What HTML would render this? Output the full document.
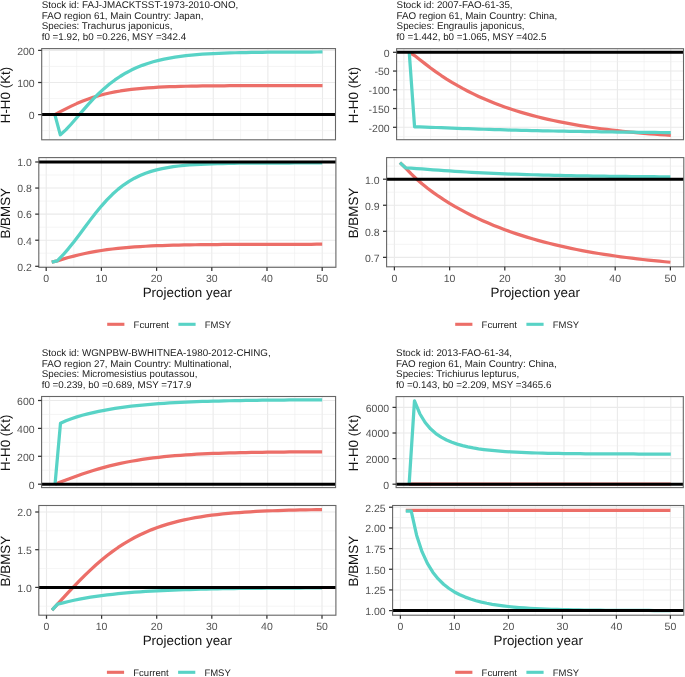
<!DOCTYPE html>
<html><head><meta charset="utf-8"><style>
html,body{margin:0;padding:0;background:#fff;width:685px;height:677px;overflow:hidden}
svg{display:block;will-change:transform}
text{font-family:"Liberation Sans", sans-serif;text-rendering:geometricPrecision}
.tt{font-size:9.8px;fill:#1c1c1c}
.tk{font-size:10.5px;fill:#525252}
.at{font-size:13.4px;fill:#141414}
.lg{font-size:9.5px;fill:#1c1c1c}
</style></head><body>
<svg width="685" height="677" viewBox="0 0 685 677">
<rect width="685" height="677" fill="#fff"/>
<line x1="76.71" y1="48.6" x2="76.71" y2="139.8" stroke="#EFEFEF" stroke-width="0.6"/>
<line x1="131.33" y1="48.6" x2="131.33" y2="139.8" stroke="#EFEFEF" stroke-width="0.6"/>
<line x1="185.95" y1="48.6" x2="185.95" y2="139.8" stroke="#EFEFEF" stroke-width="0.6"/>
<line x1="240.57" y1="48.6" x2="240.57" y2="139.8" stroke="#EFEFEF" stroke-width="0.6"/>
<line x1="295.19" y1="48.6" x2="295.19" y2="139.8" stroke="#EFEFEF" stroke-width="0.6"/>
<line x1="49.40" y1="48.6" x2="49.40" y2="139.8" stroke="#EAEAEA" stroke-width="1.1"/>
<line x1="104.02" y1="48.6" x2="104.02" y2="139.8" stroke="#EAEAEA" stroke-width="1.1"/>
<line x1="158.64" y1="48.6" x2="158.64" y2="139.8" stroke="#EAEAEA" stroke-width="1.1"/>
<line x1="213.26" y1="48.6" x2="213.26" y2="139.8" stroke="#EAEAEA" stroke-width="1.1"/>
<line x1="267.88" y1="48.6" x2="267.88" y2="139.8" stroke="#EAEAEA" stroke-width="1.1"/>
<line x1="322.50" y1="48.6" x2="322.50" y2="139.8" stroke="#EAEAEA" stroke-width="1.1"/>
<line x1="41.7" y1="130.65" x2="335.5" y2="130.65" stroke="#EFEFEF" stroke-width="0.6"/>
<line x1="41.7" y1="98.55" x2="335.5" y2="98.55" stroke="#EFEFEF" stroke-width="0.6"/>
<line x1="41.7" y1="66.45" x2="335.5" y2="66.45" stroke="#EFEFEF" stroke-width="0.6"/>
<line x1="41.7" y1="114.60" x2="335.5" y2="114.60" stroke="#EAEAEA" stroke-width="1.1"/>
<line x1="41.7" y1="82.50" x2="335.5" y2="82.50" stroke="#EAEAEA" stroke-width="1.1"/>
<line x1="41.7" y1="50.40" x2="335.5" y2="50.40" stroke="#EAEAEA" stroke-width="1.1"/>
<clipPath id="c1"><rect x="41.7" y="48.6" width="293.8" height="91.20000000000002"/></clipPath>
<polyline points="54.86,114.60 60.32,111.69 65.79,108.85 71.25,106.14 76.71,103.62 82.17,101.31 87.63,99.24 93.10,97.38 98.56,95.73 104.02,94.29 109.48,93.03 114.94,91.93 120.41,90.98 125.87,90.16 131.33,89.46 136.79,88.86 142.25,88.34 147.72,87.91 153.18,87.54 158.64,87.22 164.10,86.96 169.56,86.73 175.03,86.54 180.49,86.39 185.95,86.25 191.41,86.14 196.87,86.05 202.34,85.97 207.80,85.90 213.26,85.85 218.72,85.80 224.18,85.76 229.65,85.73 235.11,85.70 240.57,85.68 246.03,85.66 251.49,85.65 256.96,85.63 262.42,85.62 267.88,85.62 273.34,85.61 278.80,85.60 284.27,85.60 289.73,85.59 295.19,85.59 300.65,85.59 306.11,85.58 311.58,85.58 317.04,85.58 322.50,85.58" fill="none" stroke="#EC6E68" stroke-width="3.25" stroke-linejoin="round" stroke-linecap="butt" clip-path="url(#c1)"/>
<polyline points="54.86,114.60 60.32,134.80 65.79,129.85 71.25,123.99 76.71,117.70 82.17,111.34 87.63,105.13 93.10,99.22 98.56,93.72 104.02,88.66 109.48,84.06 114.94,79.93 120.41,76.24 125.87,72.97 131.33,70.09 136.79,67.57 142.25,65.36 147.72,63.44 153.18,61.78 158.64,60.34 164.10,59.10 169.56,58.04 175.03,57.12 180.49,56.34 185.95,55.67 191.41,55.10 196.87,54.61 202.34,54.20 207.80,53.85 213.26,53.55 218.72,53.30 224.18,53.08 229.65,52.90 235.11,52.75 240.57,52.62 246.03,52.51 251.49,52.42 256.96,52.34 262.42,52.28 267.88,52.22 273.34,52.18 278.80,52.14 284.27,52.11 289.73,52.08 295.19,52.06 300.65,52.04 306.11,52.02 311.58,52.01 317.04,52.00 322.50,51.99" fill="none" stroke="#58D3C6" stroke-width="3.25" stroke-linejoin="round" stroke-linecap="butt" clip-path="url(#c1)"/>
<line x1="41.7" y1="114.60" x2="335.5" y2="114.60" stroke="#000" stroke-width="3" clip-path="url(#c1)"/>
<rect x="41.7" y="48.6" width="293.80" height="91.20" fill="none" stroke="#666" stroke-width="1.1"/>
<line x1="38.10" y1="114.60" x2="41.7" y2="114.60" stroke="#333" stroke-width="1.25"/>
<text x="34.70" y="118.90" class="tk" text-anchor="end">0</text>
<line x1="38.10" y1="82.50" x2="41.7" y2="82.50" stroke="#333" stroke-width="1.25"/>
<text x="34.70" y="86.80" class="tk" text-anchor="end">100</text>
<line x1="38.10" y1="50.40" x2="41.7" y2="50.40" stroke="#333" stroke-width="1.25"/>
<text x="34.70" y="54.70" class="tk" text-anchor="end">200</text>
<line x1="73.80" y1="157.6" x2="73.80" y2="267.3" stroke="#EFEFEF" stroke-width="0.6"/>
<line x1="129.00" y1="157.6" x2="129.00" y2="267.3" stroke="#EFEFEF" stroke-width="0.6"/>
<line x1="184.20" y1="157.6" x2="184.20" y2="267.3" stroke="#EFEFEF" stroke-width="0.6"/>
<line x1="239.40" y1="157.6" x2="239.40" y2="267.3" stroke="#EFEFEF" stroke-width="0.6"/>
<line x1="294.60" y1="157.6" x2="294.60" y2="267.3" stroke="#EFEFEF" stroke-width="0.6"/>
<line x1="46.20" y1="157.6" x2="46.20" y2="267.3" stroke="#EAEAEA" stroke-width="1.1"/>
<line x1="101.40" y1="157.6" x2="101.40" y2="267.3" stroke="#EAEAEA" stroke-width="1.1"/>
<line x1="156.60" y1="157.6" x2="156.60" y2="267.3" stroke="#EAEAEA" stroke-width="1.1"/>
<line x1="211.80" y1="157.6" x2="211.80" y2="267.3" stroke="#EAEAEA" stroke-width="1.1"/>
<line x1="267.00" y1="157.6" x2="267.00" y2="267.3" stroke="#EAEAEA" stroke-width="1.1"/>
<line x1="322.20" y1="157.6" x2="322.20" y2="267.3" stroke="#EAEAEA" stroke-width="1.1"/>
<line x1="38.8" y1="253.26" x2="335.9" y2="253.26" stroke="#EFEFEF" stroke-width="0.6"/>
<line x1="38.8" y1="227.18" x2="335.9" y2="227.18" stroke="#EFEFEF" stroke-width="0.6"/>
<line x1="38.8" y1="201.10" x2="335.9" y2="201.10" stroke="#EFEFEF" stroke-width="0.6"/>
<line x1="38.8" y1="175.02" x2="335.9" y2="175.02" stroke="#EFEFEF" stroke-width="0.6"/>
<line x1="38.8" y1="266.30" x2="335.9" y2="266.30" stroke="#EAEAEA" stroke-width="1.1"/>
<line x1="38.8" y1="240.22" x2="335.9" y2="240.22" stroke="#EAEAEA" stroke-width="1.1"/>
<line x1="38.8" y1="214.14" x2="335.9" y2="214.14" stroke="#EAEAEA" stroke-width="1.1"/>
<line x1="38.8" y1="188.06" x2="335.9" y2="188.06" stroke="#EAEAEA" stroke-width="1.1"/>
<line x1="38.8" y1="161.98" x2="335.9" y2="161.98" stroke="#EAEAEA" stroke-width="1.1"/>
<clipPath id="c2"><rect x="38.8" y="157.6" width="297.09999999999997" height="109.70000000000002"/></clipPath>
<polyline points="51.72,262.20 57.24,260.90 62.76,259.17 68.28,257.56 73.80,256.08 79.32,254.72 84.84,253.48 90.36,252.37 95.88,251.37 101.40,250.48 106.92,249.69 112.44,248.99 117.96,248.37 123.48,247.83 129.00,247.35 134.52,246.93 140.04,246.57 145.56,246.25 151.08,245.97 156.60,245.73 162.12,245.52 167.64,245.34 173.16,245.19 178.68,245.05 184.20,244.93 189.72,244.83 195.24,244.75 200.76,244.67 206.28,244.61 211.80,244.55 217.32,244.51 222.84,244.47 228.36,244.43 233.88,244.40 239.40,244.38 244.92,244.36 250.44,244.34 255.96,244.32 261.48,244.31 267.00,244.30 272.52,244.29 278.04,244.28 283.56,244.27 289.08,244.26 294.60,244.26 300.12,244.25 305.64,244.25 311.16,244.25 316.68,244.24 322.20,244.24" fill="none" stroke="#EC6E68" stroke-width="3.25" stroke-linejoin="round" stroke-linecap="butt" clip-path="url(#c2)"/>
<polyline points="51.72,262.20 57.24,260.87 62.76,255.21 68.28,248.85 73.80,241.95 79.32,234.68 84.84,227.25 90.36,219.88 95.88,212.76 101.40,206.05 106.92,199.88 112.44,194.31 117.96,189.37 123.48,185.06 129.00,181.35 134.52,178.18 140.04,175.51 145.56,173.27 151.08,171.40 156.60,169.86 162.12,168.59 167.64,167.54 173.16,166.69 178.68,165.99 184.20,165.41 189.72,164.95 195.24,164.57 200.76,164.27 206.28,164.02 211.80,163.81 217.32,163.65 222.84,163.52 228.36,163.41 233.88,163.32 239.40,163.25 244.92,163.20 250.44,163.15 255.96,163.11 261.48,163.08 267.00,163.06 272.52,163.04 278.04,163.02 283.56,163.01 289.08,163.00 294.60,162.99 300.12,162.98 305.64,162.98 311.16,162.97 316.68,162.97 322.20,162.97" fill="none" stroke="#58D3C6" stroke-width="3.25" stroke-linejoin="round" stroke-linecap="butt" clip-path="url(#c2)"/>
<line x1="38.8" y1="161.98" x2="335.9" y2="161.98" stroke="#000" stroke-width="3" clip-path="url(#c2)"/>
<rect x="38.8" y="157.6" width="297.10" height="109.70" fill="none" stroke="#666" stroke-width="1.1"/>
<line x1="35.20" y1="266.30" x2="38.8" y2="266.30" stroke="#333" stroke-width="1.25"/>
<text x="31.80" y="270.60" class="tk" text-anchor="end">0.2</text>
<line x1="35.20" y1="240.22" x2="38.8" y2="240.22" stroke="#333" stroke-width="1.25"/>
<text x="31.80" y="244.52" class="tk" text-anchor="end">0.4</text>
<line x1="35.20" y1="214.14" x2="38.8" y2="214.14" stroke="#333" stroke-width="1.25"/>
<text x="31.80" y="218.44" class="tk" text-anchor="end">0.6</text>
<line x1="35.20" y1="188.06" x2="38.8" y2="188.06" stroke="#333" stroke-width="1.25"/>
<text x="31.80" y="192.36" class="tk" text-anchor="end">0.8</text>
<line x1="35.20" y1="161.98" x2="38.8" y2="161.98" stroke="#333" stroke-width="1.25"/>
<text x="31.80" y="166.28" class="tk" text-anchor="end">1.0</text>
<line x1="46.20" y1="267.3" x2="46.20" y2="270.90" stroke="#333" stroke-width="1.25"/>
<text x="46.20" y="281.80" class="tk" text-anchor="middle">0</text>
<line x1="101.40" y1="267.3" x2="101.40" y2="270.90" stroke="#333" stroke-width="1.25"/>
<text x="101.40" y="281.80" class="tk" text-anchor="middle">10</text>
<line x1="156.60" y1="267.3" x2="156.60" y2="270.90" stroke="#333" stroke-width="1.25"/>
<text x="156.60" y="281.80" class="tk" text-anchor="middle">20</text>
<line x1="211.80" y1="267.3" x2="211.80" y2="270.90" stroke="#333" stroke-width="1.25"/>
<text x="211.80" y="281.80" class="tk" text-anchor="middle">30</text>
<line x1="267.00" y1="267.3" x2="267.00" y2="270.90" stroke="#333" stroke-width="1.25"/>
<text x="267.00" y="281.80" class="tk" text-anchor="middle">40</text>
<line x1="322.20" y1="267.3" x2="322.20" y2="270.90" stroke="#333" stroke-width="1.25"/>
<text x="322.20" y="281.80" class="tk" text-anchor="middle">50</text>
<text x="41.7" y="8.20" class="tt">Stock id: FAJ-JMACKTSST-1973-2010-ONO,</text>
<text x="41.7" y="18.75" class="tt">FAO region 61, Main Country: Japan,</text>
<text x="41.7" y="29.30" class="tt">Species: Trachurus japonicus,</text>
<text x="41.7" y="39.85" class="tt">f0 =1.92, b0 =0.226, MSY =342.4</text>
<text x="9.8" y="95.0" class="at" text-anchor="middle" transform="rotate(-90 9.8 95.0)">H-H0 (Kt)</text>
<text x="9.8" y="213.25" class="at" text-anchor="middle" transform="rotate(-90 9.8 213.25)">B/BMSY</text>
<text x="187.35" y="297.30" class="at" text-anchor="middle">Projection year</text>
<line x1="107.2" y1="324.3" x2="124.4" y2="324.3" stroke="#EC6E68" stroke-width="3.1"/>
<text x="133.6" y="327.7" class="lg">Fcurrent</text>
<line x1="178.4" y1="324.3" x2="195.60000000000002" y2="324.3" stroke="#58D3C6" stroke-width="3.1"/>
<text x="204.7" y="327.7" class="lg">FMSY</text>
<line x1="430.59" y1="48.7" x2="430.59" y2="139.7" stroke="#EFEFEF" stroke-width="0.6"/>
<line x1="483.97" y1="48.7" x2="483.97" y2="139.7" stroke="#EFEFEF" stroke-width="0.6"/>
<line x1="537.35" y1="48.7" x2="537.35" y2="139.7" stroke="#EFEFEF" stroke-width="0.6"/>
<line x1="590.73" y1="48.7" x2="590.73" y2="139.7" stroke="#EFEFEF" stroke-width="0.6"/>
<line x1="644.11" y1="48.7" x2="644.11" y2="139.7" stroke="#EFEFEF" stroke-width="0.6"/>
<line x1="403.90" y1="48.7" x2="403.90" y2="139.7" stroke="#EAEAEA" stroke-width="1.1"/>
<line x1="457.28" y1="48.7" x2="457.28" y2="139.7" stroke="#EAEAEA" stroke-width="1.1"/>
<line x1="510.66" y1="48.7" x2="510.66" y2="139.7" stroke="#EAEAEA" stroke-width="1.1"/>
<line x1="564.04" y1="48.7" x2="564.04" y2="139.7" stroke="#EAEAEA" stroke-width="1.1"/>
<line x1="617.42" y1="48.7" x2="617.42" y2="139.7" stroke="#EAEAEA" stroke-width="1.1"/>
<line x1="670.80" y1="48.7" x2="670.80" y2="139.7" stroke="#EAEAEA" stroke-width="1.1"/>
<line x1="396.6" y1="61.67" x2="683.5" y2="61.67" stroke="#EFEFEF" stroke-width="0.6"/>
<line x1="396.6" y1="80.42" x2="683.5" y2="80.42" stroke="#EFEFEF" stroke-width="0.6"/>
<line x1="396.6" y1="99.17" x2="683.5" y2="99.17" stroke="#EFEFEF" stroke-width="0.6"/>
<line x1="396.6" y1="117.92" x2="683.5" y2="117.92" stroke="#EFEFEF" stroke-width="0.6"/>
<line x1="396.6" y1="136.68" x2="683.5" y2="136.68" stroke="#EFEFEF" stroke-width="0.6"/>
<line x1="396.6" y1="52.30" x2="683.5" y2="52.30" stroke="#EAEAEA" stroke-width="1.1"/>
<line x1="396.6" y1="71.05" x2="683.5" y2="71.05" stroke="#EAEAEA" stroke-width="1.1"/>
<line x1="396.6" y1="89.80" x2="683.5" y2="89.80" stroke="#EAEAEA" stroke-width="1.1"/>
<line x1="396.6" y1="108.55" x2="683.5" y2="108.55" stroke="#EAEAEA" stroke-width="1.1"/>
<line x1="396.6" y1="127.30" x2="683.5" y2="127.30" stroke="#EAEAEA" stroke-width="1.1"/>
<clipPath id="c3"><rect x="396.6" y="48.7" width="286.9" height="90.99999999999999"/></clipPath>
<polyline points="409.24,52.40 414.58,55.56 419.91,59.69 425.25,63.90 430.59,67.97 435.93,71.85 441.27,75.53 446.60,79.02 451.94,82.32 457.28,85.45 462.62,88.42 467.96,91.23 473.29,93.89 478.63,96.42 483.97,98.81 489.31,101.07 494.65,103.21 499.98,105.25 505.32,107.17 510.66,109.00 516.00,110.72 521.34,112.36 526.67,113.91 532.01,115.38 537.35,116.77 542.69,118.09 548.03,119.34 553.36,120.53 558.70,121.65 564.04,122.71 569.38,123.72 574.72,124.67 580.05,125.58 585.39,126.43 590.73,127.24 596.07,128.01 601.41,128.74 606.74,129.43 612.08,130.08 617.42,130.70 622.76,131.29 628.10,131.84 633.43,132.37 638.77,132.87 644.11,133.34 649.45,133.79 654.79,134.21 660.12,134.62 665.46,135.00 670.80,135.36" fill="none" stroke="#EC6E68" stroke-width="3.25" stroke-linejoin="round" stroke-linecap="butt" clip-path="url(#c3)"/>
<polyline points="409.24,52.40 414.58,126.80 419.91,126.93 425.25,127.10 430.59,127.29 435.93,127.50 441.27,127.71 446.60,127.92 451.94,128.13 457.28,128.33 462.62,128.53 467.96,128.72 473.29,128.90 478.63,129.08 483.97,129.25 489.31,129.42 494.65,129.58 499.98,129.73 505.32,129.88 510.66,130.02 516.00,130.16 521.34,130.29 526.67,130.42 532.01,130.55 537.35,130.66 542.69,130.78 548.03,130.89 553.36,131.00 558.70,131.10 564.04,131.20 569.38,131.30 574.72,131.39 580.05,131.48 585.39,131.57 590.73,131.65 596.07,131.73 601.41,131.81 606.74,131.88 612.08,131.95 617.42,132.02 622.76,132.09 628.10,132.15 633.43,132.22 638.77,132.28 644.11,132.33 649.45,132.39 654.79,132.44 660.12,132.50 665.46,132.55 670.80,132.59" fill="none" stroke="#58D3C6" stroke-width="3.25" stroke-linejoin="round" stroke-linecap="butt" clip-path="url(#c3)"/>
<line x1="396.6" y1="52.30" x2="683.5" y2="52.30" stroke="#000" stroke-width="3" clip-path="url(#c3)"/>
<rect x="396.6" y="48.7" width="286.90" height="91.00" fill="none" stroke="#666" stroke-width="1.1"/>
<line x1="393.00" y1="52.30" x2="396.6" y2="52.30" stroke="#333" stroke-width="1.25"/>
<text x="389.60" y="56.60" class="tk" text-anchor="end">0</text>
<line x1="393.00" y1="71.05" x2="396.6" y2="71.05" stroke="#333" stroke-width="1.25"/>
<text x="389.60" y="75.35" class="tk" text-anchor="end">-50</text>
<line x1="393.00" y1="89.80" x2="396.6" y2="89.80" stroke="#333" stroke-width="1.25"/>
<text x="389.60" y="94.10" class="tk" text-anchor="end">-100</text>
<line x1="393.00" y1="108.55" x2="396.6" y2="108.55" stroke="#333" stroke-width="1.25"/>
<text x="389.60" y="112.85" class="tk" text-anchor="end">-150</text>
<line x1="393.00" y1="127.30" x2="396.6" y2="127.30" stroke="#333" stroke-width="1.25"/>
<text x="389.60" y="131.60" class="tk" text-anchor="end">-200</text>
<line x1="422.00" y1="157.6" x2="422.00" y2="266.8" stroke="#EFEFEF" stroke-width="0.6"/>
<line x1="477.20" y1="157.6" x2="477.20" y2="266.8" stroke="#EFEFEF" stroke-width="0.6"/>
<line x1="532.40" y1="157.6" x2="532.40" y2="266.8" stroke="#EFEFEF" stroke-width="0.6"/>
<line x1="587.60" y1="157.6" x2="587.60" y2="266.8" stroke="#EFEFEF" stroke-width="0.6"/>
<line x1="642.80" y1="157.6" x2="642.80" y2="266.8" stroke="#EFEFEF" stroke-width="0.6"/>
<line x1="394.40" y1="157.6" x2="394.40" y2="266.8" stroke="#EAEAEA" stroke-width="1.1"/>
<line x1="449.60" y1="157.6" x2="449.60" y2="266.8" stroke="#EAEAEA" stroke-width="1.1"/>
<line x1="504.80" y1="157.6" x2="504.80" y2="266.8" stroke="#EAEAEA" stroke-width="1.1"/>
<line x1="560.00" y1="157.6" x2="560.00" y2="266.8" stroke="#EAEAEA" stroke-width="1.1"/>
<line x1="615.20" y1="157.6" x2="615.20" y2="266.8" stroke="#EAEAEA" stroke-width="1.1"/>
<line x1="670.40" y1="157.6" x2="670.40" y2="266.8" stroke="#EAEAEA" stroke-width="1.1"/>
<line x1="386.6" y1="244.32" x2="683.8" y2="244.32" stroke="#EFEFEF" stroke-width="0.6"/>
<line x1="386.6" y1="218.27" x2="683.8" y2="218.27" stroke="#EFEFEF" stroke-width="0.6"/>
<line x1="386.6" y1="192.22" x2="683.8" y2="192.22" stroke="#EFEFEF" stroke-width="0.6"/>
<line x1="386.6" y1="166.17" x2="683.8" y2="166.17" stroke="#EFEFEF" stroke-width="0.6"/>
<line x1="386.6" y1="257.35" x2="683.8" y2="257.35" stroke="#EAEAEA" stroke-width="1.1"/>
<line x1="386.6" y1="231.30" x2="683.8" y2="231.30" stroke="#EAEAEA" stroke-width="1.1"/>
<line x1="386.6" y1="205.25" x2="683.8" y2="205.25" stroke="#EAEAEA" stroke-width="1.1"/>
<line x1="386.6" y1="179.20" x2="683.8" y2="179.20" stroke="#EAEAEA" stroke-width="1.1"/>
<clipPath id="c4"><rect x="386.6" y="157.6" width="297.19999999999993" height="109.20000000000002"/></clipPath>
<polyline points="399.92,162.60 405.44,167.80 410.96,173.68 416.48,178.95 422.00,183.76 427.52,188.20 433.04,192.33 438.56,196.21 444.08,199.86 449.60,203.31 455.12,206.58 460.64,209.68 466.16,212.63 471.68,215.44 477.20,218.11 482.72,220.66 488.24,223.08 493.76,225.39 499.28,227.59 504.80,229.69 510.32,231.68 515.84,233.59 521.36,235.41 526.88,237.14 532.40,238.79 537.92,240.36 543.44,241.86 548.96,243.29 554.48,244.65 560.00,245.95 565.52,247.18 571.04,248.36 576.56,249.49 582.08,250.56 587.60,251.58 593.12,252.55 598.64,253.48 604.16,254.37 609.68,255.21 615.20,256.01 620.72,256.78 626.24,257.51 631.76,258.21 637.28,258.87 642.80,259.50 648.32,260.11 653.84,260.68 659.36,261.23 664.88,261.75 670.40,262.25" fill="none" stroke="#EC6E68" stroke-width="3.25" stroke-linejoin="round" stroke-linecap="butt" clip-path="url(#c4)"/>
<polyline points="399.92,162.60 405.44,167.80 410.96,168.16 416.48,168.56 422.00,168.98 427.52,169.40 433.04,169.81 438.56,170.21 444.08,170.60 449.60,170.98 455.12,171.34 460.64,171.68 466.16,172.00 471.68,172.31 477.20,172.60 482.72,172.87 488.24,173.13 493.76,173.38 499.28,173.61 504.80,173.83 510.32,174.04 515.84,174.23 521.36,174.41 526.88,174.59 532.40,174.75 537.92,174.91 543.44,175.05 548.96,175.19 554.48,175.32 560.00,175.44 565.52,175.55 571.04,175.66 576.56,175.76 582.08,175.86 587.60,175.95 593.12,176.04 598.64,176.12 604.16,176.19 609.68,176.26 615.20,176.33 620.72,176.40 626.24,176.46 631.76,176.51 637.28,176.57 642.80,176.62 648.32,176.66 653.84,176.71 659.36,176.75 664.88,176.79 670.40,176.83" fill="none" stroke="#58D3C6" stroke-width="3.25" stroke-linejoin="round" stroke-linecap="butt" clip-path="url(#c4)"/>
<line x1="386.6" y1="179.20" x2="683.8" y2="179.20" stroke="#000" stroke-width="3" clip-path="url(#c4)"/>
<rect x="386.6" y="157.6" width="297.20" height="109.20" fill="none" stroke="#666" stroke-width="1.1"/>
<line x1="383.00" y1="257.35" x2="386.6" y2="257.35" stroke="#333" stroke-width="1.25"/>
<text x="379.60" y="261.65" class="tk" text-anchor="end">0.7</text>
<line x1="383.00" y1="231.30" x2="386.6" y2="231.30" stroke="#333" stroke-width="1.25"/>
<text x="379.60" y="235.60" class="tk" text-anchor="end">0.8</text>
<line x1="383.00" y1="205.25" x2="386.6" y2="205.25" stroke="#333" stroke-width="1.25"/>
<text x="379.60" y="209.55" class="tk" text-anchor="end">0.9</text>
<line x1="383.00" y1="179.20" x2="386.6" y2="179.20" stroke="#333" stroke-width="1.25"/>
<text x="379.60" y="183.50" class="tk" text-anchor="end">1.0</text>
<line x1="394.40" y1="266.8" x2="394.40" y2="270.40" stroke="#333" stroke-width="1.25"/>
<text x="394.40" y="281.80" class="tk" text-anchor="middle">0</text>
<line x1="449.60" y1="266.8" x2="449.60" y2="270.40" stroke="#333" stroke-width="1.25"/>
<text x="449.60" y="281.80" class="tk" text-anchor="middle">10</text>
<line x1="504.80" y1="266.8" x2="504.80" y2="270.40" stroke="#333" stroke-width="1.25"/>
<text x="504.80" y="281.80" class="tk" text-anchor="middle">20</text>
<line x1="560.00" y1="266.8" x2="560.00" y2="270.40" stroke="#333" stroke-width="1.25"/>
<text x="560.00" y="281.80" class="tk" text-anchor="middle">30</text>
<line x1="615.20" y1="266.8" x2="615.20" y2="270.40" stroke="#333" stroke-width="1.25"/>
<text x="615.20" y="281.80" class="tk" text-anchor="middle">40</text>
<line x1="670.40" y1="266.8" x2="670.40" y2="270.40" stroke="#333" stroke-width="1.25"/>
<text x="670.40" y="281.80" class="tk" text-anchor="middle">50</text>
<text x="396.6" y="8.20" class="tt">Stock id: 2007-FAO-61-35,</text>
<text x="396.6" y="18.75" class="tt">FAO region 61, Main Country: China,</text>
<text x="396.6" y="29.30" class="tt">Species: Engraulis japonicus,</text>
<text x="396.6" y="39.85" class="tt">f0 =1.442, b0 =1.065, MSY =402.5</text>
<text x="357.8" y="94.99999999999999" class="at" text-anchor="middle" transform="rotate(-90 357.8 94.99999999999999)">H-H0 (Kt)</text>
<text x="357.8" y="213.0" class="at" text-anchor="middle" transform="rotate(-90 357.8 213.0)">B/BMSY</text>
<text x="535.20" y="297.30" class="at" text-anchor="middle">Projection year</text>
<line x1="455.2" y1="324.3" x2="472.4" y2="324.3" stroke="#EC6E68" stroke-width="3.1"/>
<text x="481.59999999999997" y="327.7" class="lg">Fcurrent</text>
<line x1="526.4" y1="324.3" x2="543.6" y2="324.3" stroke="#58D3C6" stroke-width="3.1"/>
<text x="552.7" y="327.7" class="lg">FMSY</text>
<line x1="76.86" y1="396.5" x2="76.86" y2="487.6" stroke="#EFEFEF" stroke-width="0.6"/>
<line x1="131.37" y1="396.5" x2="131.37" y2="487.6" stroke="#EFEFEF" stroke-width="0.6"/>
<line x1="185.87" y1="396.5" x2="185.87" y2="487.6" stroke="#EFEFEF" stroke-width="0.6"/>
<line x1="240.38" y1="396.5" x2="240.38" y2="487.6" stroke="#EFEFEF" stroke-width="0.6"/>
<line x1="294.89" y1="396.5" x2="294.89" y2="487.6" stroke="#EFEFEF" stroke-width="0.6"/>
<line x1="49.60" y1="396.5" x2="49.60" y2="487.6" stroke="#EAEAEA" stroke-width="1.1"/>
<line x1="104.11" y1="396.5" x2="104.11" y2="487.6" stroke="#EAEAEA" stroke-width="1.1"/>
<line x1="158.62" y1="396.5" x2="158.62" y2="487.6" stroke="#EAEAEA" stroke-width="1.1"/>
<line x1="213.13" y1="396.5" x2="213.13" y2="487.6" stroke="#EAEAEA" stroke-width="1.1"/>
<line x1="267.64" y1="396.5" x2="267.64" y2="487.6" stroke="#EAEAEA" stroke-width="1.1"/>
<line x1="322.15" y1="396.5" x2="322.15" y2="487.6" stroke="#EAEAEA" stroke-width="1.1"/>
<line x1="41.6" y1="470.25" x2="335.6" y2="470.25" stroke="#EFEFEF" stroke-width="0.6"/>
<line x1="41.6" y1="442.35" x2="335.6" y2="442.35" stroke="#EFEFEF" stroke-width="0.6"/>
<line x1="41.6" y1="414.45" x2="335.6" y2="414.45" stroke="#EFEFEF" stroke-width="0.6"/>
<line x1="41.6" y1="484.20" x2="335.6" y2="484.20" stroke="#EAEAEA" stroke-width="1.1"/>
<line x1="41.6" y1="456.30" x2="335.6" y2="456.30" stroke="#EAEAEA" stroke-width="1.1"/>
<line x1="41.6" y1="428.40" x2="335.6" y2="428.40" stroke="#EAEAEA" stroke-width="1.1"/>
<line x1="41.6" y1="400.50" x2="335.6" y2="400.50" stroke="#EAEAEA" stroke-width="1.1"/>
<clipPath id="c5"><rect x="41.6" y="396.5" width="294.0" height="91.10000000000002"/></clipPath>
<polyline points="55.05,484.15 60.50,482.10 65.95,480.03 71.40,477.98 76.86,475.99 82.31,474.06 87.76,472.23 93.21,470.49 98.66,468.86 104.11,467.33 109.56,465.91 115.01,464.59 120.46,463.37 125.91,462.25 131.37,461.23 136.82,460.29 142.27,459.43 147.72,458.65 153.17,457.94 158.62,457.29 164.07,456.71 169.52,456.18 174.97,455.71 180.42,455.28 185.87,454.89 191.33,454.54 196.78,454.23 202.23,453.95 207.68,453.70 213.13,453.47 218.58,453.27 224.03,453.09 229.48,452.93 234.93,452.79 240.38,452.66 245.84,452.54 251.29,452.44 256.74,452.35 262.19,452.27 267.64,452.20 273.09,452.13 278.54,452.07 283.99,452.02 289.44,451.98 294.89,451.94 300.35,451.90 305.80,451.87 311.25,451.84 316.70,451.82 322.15,451.80" fill="none" stroke="#EC6E68" stroke-width="3.25" stroke-linejoin="round" stroke-linecap="butt" clip-path="url(#c5)"/>
<polyline points="55.05,484.15 60.50,423.20 65.95,420.76 71.40,418.70 76.86,416.89 82.31,415.29 87.76,413.85 93.21,412.55 98.66,411.37 104.11,410.30 109.56,409.32 115.01,408.44 120.46,407.63 125.91,406.90 131.37,406.23 136.82,405.63 142.27,405.08 147.72,404.58 153.17,404.12 158.62,403.71 164.07,403.33 169.52,402.99 174.97,402.67 180.42,402.39 185.87,402.13 191.33,401.90 196.78,401.69 202.23,401.49 207.68,401.31 213.13,401.15 218.58,401.01 224.03,400.88 229.48,400.75 234.93,400.64 240.38,400.54 245.84,400.45 251.29,400.37 256.74,400.30 262.19,400.23 267.64,400.17 273.09,400.11 278.54,400.06 283.99,400.01 289.44,399.97 294.89,399.93 300.35,399.89 305.80,399.86 311.25,399.83 316.70,399.81 322.15,399.78" fill="none" stroke="#58D3C6" stroke-width="3.25" stroke-linejoin="round" stroke-linecap="butt" clip-path="url(#c5)"/>
<line x1="41.6" y1="484.20" x2="335.6" y2="484.20" stroke="#000" stroke-width="3" clip-path="url(#c5)"/>
<rect x="41.6" y="396.5" width="294.00" height="91.10" fill="none" stroke="#666" stroke-width="1.1"/>
<line x1="38.00" y1="484.20" x2="41.6" y2="484.20" stroke="#333" stroke-width="1.25"/>
<text x="34.60" y="488.50" class="tk" text-anchor="end">0</text>
<line x1="38.00" y1="456.30" x2="41.6" y2="456.30" stroke="#333" stroke-width="1.25"/>
<text x="34.60" y="460.60" class="tk" text-anchor="end">200</text>
<line x1="38.00" y1="428.40" x2="41.6" y2="428.40" stroke="#333" stroke-width="1.25"/>
<text x="34.60" y="432.70" class="tk" text-anchor="end">400</text>
<line x1="38.00" y1="400.50" x2="41.6" y2="400.50" stroke="#333" stroke-width="1.25"/>
<text x="34.60" y="404.80" class="tk" text-anchor="end">600</text>
<line x1="74.05" y1="505.5" x2="74.05" y2="615.2" stroke="#EFEFEF" stroke-width="0.6"/>
<line x1="129.15" y1="505.5" x2="129.15" y2="615.2" stroke="#EFEFEF" stroke-width="0.6"/>
<line x1="184.25" y1="505.5" x2="184.25" y2="615.2" stroke="#EFEFEF" stroke-width="0.6"/>
<line x1="239.35" y1="505.5" x2="239.35" y2="615.2" stroke="#EFEFEF" stroke-width="0.6"/>
<line x1="294.45" y1="505.5" x2="294.45" y2="615.2" stroke="#EFEFEF" stroke-width="0.6"/>
<line x1="46.50" y1="505.5" x2="46.50" y2="615.2" stroke="#EAEAEA" stroke-width="1.1"/>
<line x1="101.60" y1="505.5" x2="101.60" y2="615.2" stroke="#EAEAEA" stroke-width="1.1"/>
<line x1="156.70" y1="505.5" x2="156.70" y2="615.2" stroke="#EAEAEA" stroke-width="1.1"/>
<line x1="211.80" y1="505.5" x2="211.80" y2="615.2" stroke="#EAEAEA" stroke-width="1.1"/>
<line x1="266.90" y1="505.5" x2="266.90" y2="615.2" stroke="#EAEAEA" stroke-width="1.1"/>
<line x1="322.00" y1="505.5" x2="322.00" y2="615.2" stroke="#EAEAEA" stroke-width="1.1"/>
<line x1="38.8" y1="606.25" x2="335.9" y2="606.25" stroke="#EFEFEF" stroke-width="0.6"/>
<line x1="38.8" y1="568.55" x2="335.9" y2="568.55" stroke="#EFEFEF" stroke-width="0.6"/>
<line x1="38.8" y1="530.85" x2="335.9" y2="530.85" stroke="#EFEFEF" stroke-width="0.6"/>
<line x1="38.8" y1="587.40" x2="335.9" y2="587.40" stroke="#EAEAEA" stroke-width="1.1"/>
<line x1="38.8" y1="549.70" x2="335.9" y2="549.70" stroke="#EAEAEA" stroke-width="1.1"/>
<line x1="38.8" y1="512.00" x2="335.9" y2="512.00" stroke="#EAEAEA" stroke-width="1.1"/>
<clipPath id="c6"><rect x="38.8" y="505.5" width="297.09999999999997" height="109.70000000000005"/></clipPath>
<polyline points="52.01,610.20 57.52,604.13 63.03,598.17 68.54,592.23 74.05,586.37 79.56,580.65 85.07,575.12 90.58,569.83 96.09,564.78 101.60,560.02 107.11,555.54 112.62,551.36 118.13,547.48 123.64,543.88 129.15,540.57 134.66,537.52 140.17,534.73 145.68,532.19 151.19,529.87 156.70,527.77 162.21,525.86 167.72,524.13 173.23,522.57 178.74,521.16 184.25,519.89 189.76,518.74 195.27,517.71 200.78,516.79 206.29,515.96 211.80,515.22 217.31,514.55 222.82,513.95 228.33,513.42 233.84,512.94 239.35,512.51 244.86,512.13 250.37,511.79 255.88,511.48 261.39,511.21 266.90,510.96 272.41,510.75 277.92,510.55 283.43,510.38 288.94,510.22 294.45,510.08 299.96,509.96 305.47,509.85 310.98,509.75 316.49,509.66 322.00,509.59" fill="none" stroke="#EC6E68" stroke-width="3.25" stroke-linejoin="round" stroke-linecap="butt" clip-path="url(#c6)"/>
<polyline points="52.01,610.20 57.52,604.10 63.03,602.82 68.54,601.50 74.05,600.28 79.56,599.16 85.07,598.15 90.58,597.22 96.09,596.38 101.60,595.61 107.11,594.91 112.62,594.27 118.13,593.69 123.64,593.16 129.15,592.68 134.66,592.24 140.17,591.84 145.68,591.48 151.19,591.14 156.70,590.84 162.21,590.56 167.72,590.31 173.23,590.08 178.74,589.87 184.25,589.68 189.76,589.51 195.27,589.35 200.78,589.21 206.29,589.08 211.80,588.96 217.31,588.85 222.82,588.75 228.33,588.66 233.84,588.58 239.35,588.50 244.86,588.43 250.37,588.37 255.88,588.31 261.39,588.26 266.90,588.21 272.41,588.17 277.92,588.13 283.43,588.10 288.94,588.06 294.45,588.03 299.96,588.01 305.47,587.98 310.98,587.96 316.49,587.94 322.00,587.92" fill="none" stroke="#58D3C6" stroke-width="3.25" stroke-linejoin="round" stroke-linecap="butt" clip-path="url(#c6)"/>
<line x1="38.8" y1="587.40" x2="335.9" y2="587.40" stroke="#000" stroke-width="3" clip-path="url(#c6)"/>
<rect x="38.8" y="505.5" width="297.10" height="109.70" fill="none" stroke="#666" stroke-width="1.1"/>
<line x1="35.20" y1="587.40" x2="38.8" y2="587.40" stroke="#333" stroke-width="1.25"/>
<text x="31.80" y="591.70" class="tk" text-anchor="end">1.0</text>
<line x1="35.20" y1="549.70" x2="38.8" y2="549.70" stroke="#333" stroke-width="1.25"/>
<text x="31.80" y="554.00" class="tk" text-anchor="end">1.5</text>
<line x1="35.20" y1="512.00" x2="38.8" y2="512.00" stroke="#333" stroke-width="1.25"/>
<text x="31.80" y="516.30" class="tk" text-anchor="end">2.0</text>
<line x1="46.50" y1="615.2" x2="46.50" y2="618.80" stroke="#333" stroke-width="1.25"/>
<text x="46.50" y="629.80" class="tk" text-anchor="middle">0</text>
<line x1="101.60" y1="615.2" x2="101.60" y2="618.80" stroke="#333" stroke-width="1.25"/>
<text x="101.60" y="629.80" class="tk" text-anchor="middle">10</text>
<line x1="156.70" y1="615.2" x2="156.70" y2="618.80" stroke="#333" stroke-width="1.25"/>
<text x="156.70" y="629.80" class="tk" text-anchor="middle">20</text>
<line x1="211.80" y1="615.2" x2="211.80" y2="618.80" stroke="#333" stroke-width="1.25"/>
<text x="211.80" y="629.80" class="tk" text-anchor="middle">30</text>
<line x1="266.90" y1="615.2" x2="266.90" y2="618.80" stroke="#333" stroke-width="1.25"/>
<text x="266.90" y="629.80" class="tk" text-anchor="middle">40</text>
<line x1="322.00" y1="615.2" x2="322.00" y2="618.80" stroke="#333" stroke-width="1.25"/>
<text x="322.00" y="629.80" class="tk" text-anchor="middle">50</text>
<text x="41.7" y="356.20" class="tt">Stock id: WGNPBW-BWHITNEA-1980-2012-CHING,</text>
<text x="41.7" y="366.75" class="tt">FAO region 27, Main Country: Multinational,</text>
<text x="41.7" y="377.30" class="tt">Species: Micromesistius poutassou,</text>
<text x="41.7" y="387.85" class="tt">f0 =0.239, b0 =0.689, MSY =717.9</text>
<text x="9.8" y="442.85" class="at" text-anchor="middle" transform="rotate(-90 9.8 442.85)">H-H0 (Kt)</text>
<text x="9.8" y="561.15" class="at" text-anchor="middle" transform="rotate(-90 9.8 561.15)">B/BMSY</text>
<text x="187.35" y="645.30" class="at" text-anchor="middle">Projection year</text>
<line x1="106.9" y1="672.3" x2="124.10000000000001" y2="672.3" stroke="#EC6E68" stroke-width="3.1"/>
<text x="133.3" y="675.6999999999999" class="lg">Fcurrent</text>
<line x1="178.10000000000002" y1="672.3" x2="195.3" y2="672.3" stroke="#58D3C6" stroke-width="3.1"/>
<text x="204.4" y="675.6999999999999" class="lg">FMSY</text>
<line x1="430.50" y1="396.6" x2="430.50" y2="487.6" stroke="#EFEFEF" stroke-width="0.6"/>
<line x1="483.90" y1="396.6" x2="483.90" y2="487.6" stroke="#EFEFEF" stroke-width="0.6"/>
<line x1="537.30" y1="396.6" x2="537.30" y2="487.6" stroke="#EFEFEF" stroke-width="0.6"/>
<line x1="590.70" y1="396.6" x2="590.70" y2="487.6" stroke="#EFEFEF" stroke-width="0.6"/>
<line x1="644.10" y1="396.6" x2="644.10" y2="487.6" stroke="#EFEFEF" stroke-width="0.6"/>
<line x1="403.80" y1="396.6" x2="403.80" y2="487.6" stroke="#EAEAEA" stroke-width="1.1"/>
<line x1="457.20" y1="396.6" x2="457.20" y2="487.6" stroke="#EAEAEA" stroke-width="1.1"/>
<line x1="510.60" y1="396.6" x2="510.60" y2="487.6" stroke="#EAEAEA" stroke-width="1.1"/>
<line x1="564.00" y1="396.6" x2="564.00" y2="487.6" stroke="#EAEAEA" stroke-width="1.1"/>
<line x1="617.40" y1="396.6" x2="617.40" y2="487.6" stroke="#EAEAEA" stroke-width="1.1"/>
<line x1="670.80" y1="396.6" x2="670.80" y2="487.6" stroke="#EAEAEA" stroke-width="1.1"/>
<line x1="396.1" y1="471.40" x2="683.3" y2="471.40" stroke="#EFEFEF" stroke-width="0.6"/>
<line x1="396.1" y1="445.80" x2="683.3" y2="445.80" stroke="#EFEFEF" stroke-width="0.6"/>
<line x1="396.1" y1="420.20" x2="683.3" y2="420.20" stroke="#EFEFEF" stroke-width="0.6"/>
<line x1="396.1" y1="484.20" x2="683.3" y2="484.20" stroke="#EAEAEA" stroke-width="1.1"/>
<line x1="396.1" y1="458.60" x2="683.3" y2="458.60" stroke="#EAEAEA" stroke-width="1.1"/>
<line x1="396.1" y1="433.00" x2="683.3" y2="433.00" stroke="#EAEAEA" stroke-width="1.1"/>
<line x1="396.1" y1="407.40" x2="683.3" y2="407.40" stroke="#EAEAEA" stroke-width="1.1"/>
<clipPath id="c7"><rect x="396.1" y="396.6" width="287.19999999999993" height="91.0"/></clipPath>
<polyline points="409.14,484.20 414.48,484.20 419.82,484.20 425.16,484.20 430.50,484.20 435.84,484.20 441.18,484.20 446.52,484.20 451.86,484.20 457.20,484.20 462.54,484.20 467.88,484.20 473.22,484.20 478.56,484.20 483.90,484.20 489.24,484.20 494.58,484.20 499.92,484.20 505.26,484.20 510.60,484.20 515.94,484.20 521.28,484.20 526.62,484.20 531.96,484.20 537.30,484.20 542.64,484.20 547.98,484.20 553.32,484.20 558.66,484.20 564.00,484.20 569.34,484.20 574.68,484.20 580.02,484.20 585.36,484.20 590.70,484.20 596.04,484.20 601.38,484.20 606.72,484.20 612.06,484.20 617.40,484.20 622.74,484.20 628.08,484.20 633.42,484.20 638.76,484.20 644.10,484.20 649.44,484.20 654.78,484.20 660.12,484.20 665.46,484.20 670.80,484.20" fill="none" stroke="#EC6E68" stroke-width="3.25" stroke-linejoin="round" stroke-linecap="butt" clip-path="url(#c7)"/>
<polyline points="409.14,484.20 414.48,400.79 419.82,413.74 425.16,422.53 430.50,428.83 435.84,433.53 441.18,437.14 446.52,439.98 451.86,442.25 457.20,444.10 462.54,445.61 467.88,446.86 473.22,447.91 478.56,448.79 483.90,449.53 489.24,450.16 494.58,450.70 499.92,451.16 505.26,451.55 510.60,451.89 515.94,452.18 521.28,452.43 526.62,452.65 531.96,452.83 537.30,453.00 542.64,453.14 547.98,453.26 553.32,453.37 558.66,453.46 564.00,453.54 569.34,453.61 574.68,453.67 580.02,453.72 585.36,453.77 590.70,453.81 596.04,453.84 601.38,453.87 606.72,453.90 612.06,453.92 617.40,453.94 622.74,453.96 628.08,453.98 633.42,453.99 638.76,454.00 644.10,454.01 649.44,454.02 654.78,454.03 660.12,454.04 665.46,454.04 670.80,454.05" fill="none" stroke="#58D3C6" stroke-width="3.25" stroke-linejoin="round" stroke-linecap="butt" clip-path="url(#c7)"/>
<line x1="396.1" y1="484.20" x2="683.3" y2="484.20" stroke="#000" stroke-width="3" clip-path="url(#c7)"/>
<rect x="396.1" y="396.6" width="287.20" height="91.00" fill="none" stroke="#666" stroke-width="1.1"/>
<line x1="392.50" y1="484.20" x2="396.1" y2="484.20" stroke="#333" stroke-width="1.25"/>
<text x="389.10" y="488.50" class="tk" text-anchor="end">0</text>
<line x1="392.50" y1="458.60" x2="396.1" y2="458.60" stroke="#333" stroke-width="1.25"/>
<text x="389.10" y="462.90" class="tk" text-anchor="end">2000</text>
<line x1="392.50" y1="433.00" x2="396.1" y2="433.00" stroke="#333" stroke-width="1.25"/>
<text x="389.10" y="437.30" class="tk" text-anchor="end">4000</text>
<line x1="392.50" y1="407.40" x2="396.1" y2="407.40" stroke="#333" stroke-width="1.25"/>
<text x="389.10" y="411.70" class="tk" text-anchor="end">6000</text>
<line x1="427.40" y1="505.5" x2="427.40" y2="615.2" stroke="#EFEFEF" stroke-width="0.6"/>
<line x1="481.40" y1="505.5" x2="481.40" y2="615.2" stroke="#EFEFEF" stroke-width="0.6"/>
<line x1="535.40" y1="505.5" x2="535.40" y2="615.2" stroke="#EFEFEF" stroke-width="0.6"/>
<line x1="589.40" y1="505.5" x2="589.40" y2="615.2" stroke="#EFEFEF" stroke-width="0.6"/>
<line x1="643.40" y1="505.5" x2="643.40" y2="615.2" stroke="#EFEFEF" stroke-width="0.6"/>
<line x1="400.40" y1="505.5" x2="400.40" y2="615.2" stroke="#EAEAEA" stroke-width="1.1"/>
<line x1="454.40" y1="505.5" x2="454.40" y2="615.2" stroke="#EAEAEA" stroke-width="1.1"/>
<line x1="508.40" y1="505.5" x2="508.40" y2="615.2" stroke="#EAEAEA" stroke-width="1.1"/>
<line x1="562.40" y1="505.5" x2="562.40" y2="615.2" stroke="#EAEAEA" stroke-width="1.1"/>
<line x1="616.40" y1="505.5" x2="616.40" y2="615.2" stroke="#EAEAEA" stroke-width="1.1"/>
<line x1="670.40" y1="505.5" x2="670.40" y2="615.2" stroke="#EAEAEA" stroke-width="1.1"/>
<line x1="392.6" y1="600.26" x2="683.8" y2="600.26" stroke="#EFEFEF" stroke-width="0.6"/>
<line x1="392.6" y1="579.59" x2="683.8" y2="579.59" stroke="#EFEFEF" stroke-width="0.6"/>
<line x1="392.6" y1="558.91" x2="683.8" y2="558.91" stroke="#EFEFEF" stroke-width="0.6"/>
<line x1="392.6" y1="538.24" x2="683.8" y2="538.24" stroke="#EFEFEF" stroke-width="0.6"/>
<line x1="392.6" y1="517.56" x2="683.8" y2="517.56" stroke="#EFEFEF" stroke-width="0.6"/>
<line x1="392.6" y1="610.60" x2="683.8" y2="610.60" stroke="#EAEAEA" stroke-width="1.1"/>
<line x1="392.6" y1="589.93" x2="683.8" y2="589.93" stroke="#EAEAEA" stroke-width="1.1"/>
<line x1="392.6" y1="569.25" x2="683.8" y2="569.25" stroke="#EAEAEA" stroke-width="1.1"/>
<line x1="392.6" y1="548.58" x2="683.8" y2="548.58" stroke="#EAEAEA" stroke-width="1.1"/>
<line x1="392.6" y1="527.90" x2="683.8" y2="527.90" stroke="#EAEAEA" stroke-width="1.1"/>
<line x1="392.6" y1="507.23" x2="683.8" y2="507.23" stroke="#EAEAEA" stroke-width="1.1"/>
<clipPath id="c8"><rect x="392.6" y="505.5" width="291.19999999999993" height="109.70000000000005"/></clipPath>
<polyline points="405.80,510.30 411.20,510.30 416.60,510.30 422.00,510.30 427.40,510.30 432.80,510.30 438.20,510.30 443.60,510.30 449.00,510.30 454.40,510.30 459.80,510.30 465.20,510.30 470.60,510.30 476.00,510.30 481.40,510.30 486.80,510.30 492.20,510.30 497.60,510.30 503.00,510.30 508.40,510.30 513.80,510.30 519.20,510.30 524.60,510.30 530.00,510.30 535.40,510.30 540.80,510.30 546.20,510.30 551.60,510.30 557.00,510.30 562.40,510.30 567.80,510.30 573.20,510.30 578.60,510.30 584.00,510.30 589.40,510.30 594.80,510.30 600.20,510.30 605.60,510.30 611.00,510.30 616.40,510.30 621.80,510.30 627.20,510.30 632.60,510.30 638.00,510.30 643.40,510.30 648.80,510.30 654.20,510.30 659.60,510.30 665.00,510.30 670.40,510.30" fill="none" stroke="#EC6E68" stroke-width="3.25" stroke-linejoin="round" stroke-linecap="butt" clip-path="url(#c8)"/>
<polyline points="405.80,511.02 411.20,511.02 416.60,535.22 422.00,551.64 427.40,563.42 432.80,572.20 438.20,578.95 443.60,584.26 449.00,588.50 454.40,591.95 459.80,594.77 465.20,597.11 470.60,599.07 476.00,600.71 481.40,602.10 486.80,603.27 492.20,604.28 497.60,605.13 503.00,605.87 508.40,606.50 513.80,607.04 519.20,607.51 524.60,607.92 530.00,608.27 535.40,608.57 540.80,608.84 546.20,609.06 551.60,609.26 557.00,609.44 562.40,609.59 567.80,609.72 573.20,609.83 578.60,609.93 584.00,610.01 589.40,610.09 594.80,610.15 600.20,610.21 605.60,610.26 611.00,610.30 616.40,610.34 621.80,610.37 627.20,610.40 632.60,610.43 638.00,610.45 643.40,610.47 648.80,610.49 654.20,610.50 659.60,610.51 665.00,610.52 670.40,610.53" fill="none" stroke="#58D3C6" stroke-width="3.25" stroke-linejoin="round" stroke-linecap="butt" clip-path="url(#c8)"/>
<line x1="392.6" y1="610.60" x2="683.8" y2="610.60" stroke="#000" stroke-width="3" clip-path="url(#c8)"/>
<rect x="392.6" y="505.5" width="291.20" height="109.70" fill="none" stroke="#666" stroke-width="1.1"/>
<line x1="389.00" y1="610.60" x2="392.6" y2="610.60" stroke="#333" stroke-width="1.25"/>
<text x="385.60" y="614.90" class="tk" text-anchor="end">1.00</text>
<line x1="389.00" y1="589.93" x2="392.6" y2="589.93" stroke="#333" stroke-width="1.25"/>
<text x="385.60" y="594.23" class="tk" text-anchor="end">1.25</text>
<line x1="389.00" y1="569.25" x2="392.6" y2="569.25" stroke="#333" stroke-width="1.25"/>
<text x="385.60" y="573.55" class="tk" text-anchor="end">1.50</text>
<line x1="389.00" y1="548.58" x2="392.6" y2="548.58" stroke="#333" stroke-width="1.25"/>
<text x="385.60" y="552.88" class="tk" text-anchor="end">1.75</text>
<line x1="389.00" y1="527.90" x2="392.6" y2="527.90" stroke="#333" stroke-width="1.25"/>
<text x="385.60" y="532.20" class="tk" text-anchor="end">2.00</text>
<line x1="389.00" y1="507.23" x2="392.6" y2="507.23" stroke="#333" stroke-width="1.25"/>
<text x="385.60" y="511.53" class="tk" text-anchor="end">2.25</text>
<line x1="400.40" y1="615.2" x2="400.40" y2="618.80" stroke="#333" stroke-width="1.25"/>
<text x="400.40" y="629.80" class="tk" text-anchor="middle">0</text>
<line x1="454.40" y1="615.2" x2="454.40" y2="618.80" stroke="#333" stroke-width="1.25"/>
<text x="454.40" y="629.80" class="tk" text-anchor="middle">10</text>
<line x1="508.40" y1="615.2" x2="508.40" y2="618.80" stroke="#333" stroke-width="1.25"/>
<text x="508.40" y="629.80" class="tk" text-anchor="middle">20</text>
<line x1="562.40" y1="615.2" x2="562.40" y2="618.80" stroke="#333" stroke-width="1.25"/>
<text x="562.40" y="629.80" class="tk" text-anchor="middle">30</text>
<line x1="616.40" y1="615.2" x2="616.40" y2="618.80" stroke="#333" stroke-width="1.25"/>
<text x="616.40" y="629.80" class="tk" text-anchor="middle">40</text>
<line x1="670.40" y1="615.2" x2="670.40" y2="618.80" stroke="#333" stroke-width="1.25"/>
<text x="670.40" y="629.80" class="tk" text-anchor="middle">50</text>
<text x="396.1" y="356.20" class="tt">Stock id: 2013-FAO-61-34,</text>
<text x="396.1" y="366.75" class="tt">FAO region 61, Main Country: China,</text>
<text x="396.1" y="377.30" class="tt">Species: Trichiurus lepturus,</text>
<text x="396.1" y="387.85" class="tt">f0 =0.143, b0 =2.209, MSY =3465.6</text>
<text x="357.8" y="442.90000000000003" class="at" text-anchor="middle" transform="rotate(-90 357.8 442.90000000000003)">H-H0 (Kt)</text>
<text x="357.8" y="561.15" class="at" text-anchor="middle" transform="rotate(-90 357.8 561.15)">B/BMSY</text>
<text x="538.20" y="645.30" class="at" text-anchor="middle">Projection year</text>
<line x1="455.2" y1="672.3" x2="472.4" y2="672.3" stroke="#EC6E68" stroke-width="3.1"/>
<text x="481.59999999999997" y="675.6999999999999" class="lg">Fcurrent</text>
<line x1="526.4" y1="672.3" x2="543.6" y2="672.3" stroke="#58D3C6" stroke-width="3.1"/>
<text x="552.7" y="675.6999999999999" class="lg">FMSY</text>
</svg>
</body></html>
